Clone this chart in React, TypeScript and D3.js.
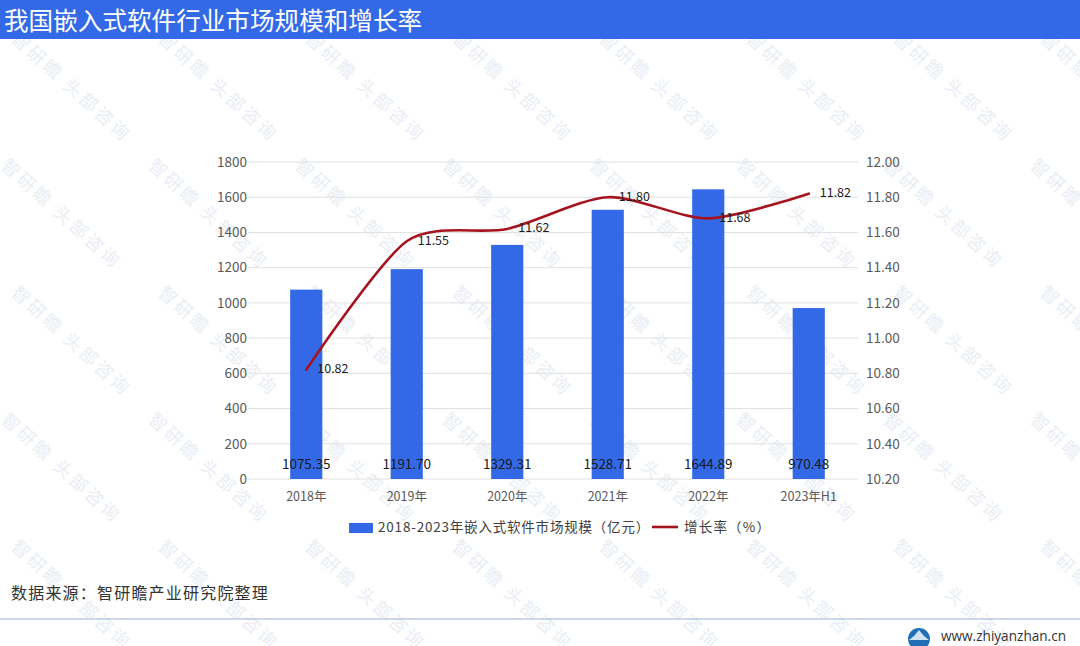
import { useEffect, useRef } from 'react';
import * as d3 from 'd3';

const categories = ['2018年', '2019年', '2020年', '2021年', '2022年', '2023年H1'];
const marketSize = [1075.35, 1191.7, 1329.31, 1528.71, 1644.89, 970.48];
const growthRate = [10.82, 11.55, 11.62, 11.8, 11.68, 11.82];
const leftTicks = [0, 200, 400, 600, 800, 1000, 1200, 1400, 1600, 1800];
const rightTicks = [10.2, 10.4, 10.6, 10.8, 11.0, 11.2, 11.4, 11.6, 11.8, 12.0];
const barLegend = '2018-2023年嵌入式软件市场规模（亿元）';
const lineLegend = '增长率（%）';
const title = '我国嵌入式软件行业市场规模和增长率';
const source = '数据来源：智研瞻产业研究院整理';
const site = 'www.zhiyanzhan.cn';
const watermark = '智研瞻 头部咨询';

const FONT = '"Noto Sans CJK SC", "Noto Sans", sans-serif';
const BLUE = '#3369e7';
const RED = '#a5141e';

const App = () => {
  const svgRef = useRef<SVGSVGElement>(null);

  useEffect(() => {
    const svg = d3.select(svgRef.current);
    svg.selectAll('*').remove();

    const x = d3.scaleBand().domain(categories).range([256, 859]).paddingInner(0.68).paddingOuter(0.34);
    const y = d3.scaleLinear().domain([0, 1800]).range([479, 162]);
    const yRight = d3.scaleLinear().domain([10.2, 12]).range([479, 162]);
    const cx = (d: string) => x(d)! + x.bandwidth() / 2;

    // watermark goes underneath everything
    const wm = svg.append('g')
      .attr('fill', '#e9eef4')
      .attr('font-size', 18)
      .attr('letter-spacing', 3)
      .attr('font-family', FONT);
    for (let row = 0; row < 5; row++) {
      for (let col = 0; col < 8; col++) {
        const wx = col * 147 + (row % 2 === 0 ? 10 : 0);
        const wy = row * 127 + 40;
        wm.append('text')
          .attr('transform', `translate(${wx},${wy}) rotate(42)`)
          .text(watermark);
      }
    }

    // header
    svg.append('rect').attr('x', 0).attr('y', 0).attr('width', 1080).attr('height', 39).attr('fill', BLUE);
    svg.append('text')
      .attr('x', 4).attr('y', 23).attr('dominant-baseline', 'middle')
      .attr('fill', '#fff').attr('font-size', 24.6)
      .attr('font-family', FONT)
      .text(title);

    // gridlines
    svg.append('g').selectAll('line').data(leftTicks).join('line')
      .attr('x1', 248).attr('x2', 858)
      .attr('y1', (d) => y(d)).attr('y2', (d) => y(d))
      .attr('stroke', '#e0e0e0').attr('stroke-width', 1);

    // bars
    svg.append('g').selectAll('rect').data(marketSize).join('rect')
      .attr('x', (_, i) => x(categories[i])!)
      .attr('y', (d) => y(d))
      .attr('width', x.bandwidth())
      .attr('height', (d) => y(0) - y(d))
      .attr('fill', BLUE);

    // left axis
    const axisL = svg.append('g').attr('transform', 'translate(247,0)')
      .call(d3.axisLeft(y).tickValues(leftTicks).tickFormat(d3.format('d') as any).tickSize(0).tickPadding(0));
    axisL.select('.domain').remove();
    axisL.selectAll('text').attr('fill', '#595959').attr('font-size', 13.5).attr('font-family', FONT);

    // right axis
    const axisR = svg.append('g').attr('transform', 'translate(866,0)')
      .call(d3.axisRight(yRight).tickValues(rightTicks).tickFormat(d3.format('.2f') as any).tickSize(0).tickPadding(0));
    axisR.select('.domain').remove();
    axisR.selectAll('text').attr('fill', '#595959').attr('font-size', 13.5).attr('font-family', FONT);

    // category axis
    const axisB = svg.append('g').attr('transform', 'translate(0,492)')
      .call(d3.axisBottom(x).tickSize(0).tickPadding(0));
    axisB.select('.domain').remove();
    axisB.selectAll('text').attr('fill', '#595959').attr('font-size', 12.5).attr('font-family', FONT);

    // growth line
    const line = d3.line<number>()
      .x((_, i) => cx(categories[i]))
      .y((d) => yRight(d))
      .curve(d3.curveCardinal.tension(0.2));
    svg.append('path').attr('d', line(growthRate)!)
      .attr('fill', 'none').attr('stroke', RED).attr('stroke-width', 2.6).attr('stroke-linecap', 'round');

    // bar value labels sit at the foot of each bar
    svg.append('g').selectAll('text').data(marketSize).join('text')
      .attr('x', (_, i) => cx(categories[i]))
      .attr('y', 465)
      .attr('text-anchor', 'middle').attr('font-size', 13.5).attr('font-family', FONT)
      .attr('dominant-baseline', 'middle').attr('fill', '#1a1a1a')
      .text((d) => d.toFixed(2));

    // line labels, to the right of each point
    svg.append('g').selectAll('text').data(growthRate).join('text')
      .attr('x', (_, i) => cx(categories[i]) + 11)
      .attr('y', (d) => yRight(d))
      .attr('font-size', 12.5).attr('font-family', FONT)
      .attr('dominant-baseline', 'middle').attr('fill', '#1a1a1a')
      .text((d) => d.toFixed(2));

    // legend
    svg.append('rect').attr('x', 349).attr('y', 523).attr('width', 24).attr('height', 10).attr('fill', BLUE);
    svg.append('text').attr('x', 378).attr('y', 528).attr('dominant-baseline', 'middle')
      .attr('font-size', 13.5).attr('letter-spacing', 0.8)
      .attr('font-family', FONT).attr('fill', '#404040').text(barLegend);
    svg.append('line').attr('x1', 652).attr('x2', 678).attr('y1', 527).attr('y2', 527)
      .attr('stroke', RED).attr('stroke-width', 2.6);
    svg.append('text').attr('x', 684).attr('y', 528).attr('dominant-baseline', 'middle')
      .attr('font-size', 13.5).attr('letter-spacing', 1.2)
      .attr('font-family', FONT).attr('fill', '#404040').text(lineLegend);

    // source and footer
    svg.append('text').attr('x', 11).attr('y', 595).attr('dominant-baseline', 'middle')
      .attr('font-size', 16).attr('letter-spacing', 1.2)
      .attr('font-family', FONT).attr('fill', '#333').text(source);
    svg.append('line').attr('x1', 0).attr('x2', 1080).attr('y1', 619).attr('y2', 619)
      .attr('stroke', '#9db4d8').attr('stroke-width', 1.2);
    svg.append('circle').attr('cx', 919).attr('cy', 639).attr('r', 11).attr('fill', '#1f6fb5');
    svg.append('path').attr('d', 'M909 640 L914 636 L919 630 L924 636 L929 640 Z').attr('fill', '#cfe3f3');
    svg.append('text').attr('x', 941).attr('y', 637).attr('dominant-baseline', 'middle')
      .attr('font-size', 13.6).attr('font-family', '"Open Sans", sans-serif').attr('fill', '#333').text(site);
  }, []);

  return (
    <svg
      ref={svgRef}
      width={1080}
      height={646}
      viewBox="0 0 1080 646"
      style={{ position: 'absolute', left: 0, top: 0, background: '#fff' }}
    />
  );
};

export default App;
